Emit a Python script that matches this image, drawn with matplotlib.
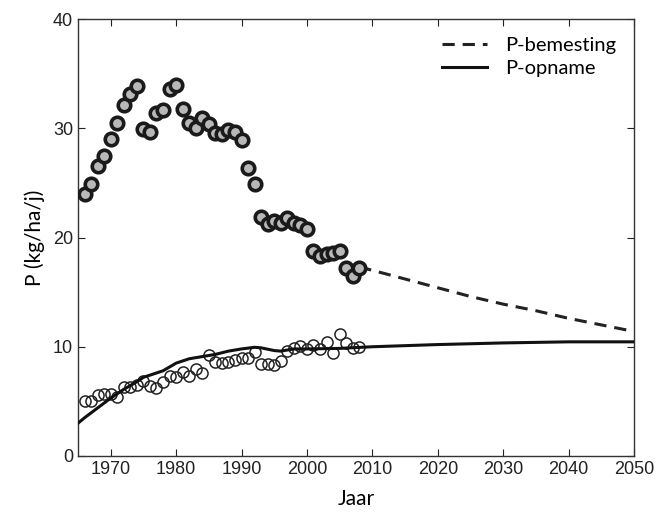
import numpy as np
import matplotlib.pyplot as plt

# Measured P fertilisation (kg/ha/yr)
years_obs = np.arange(1966, 2009)
p_fert = [24.0, 24.9, 26.5, 27.5, 29.0, 30.5, 32.1, 33.1, 33.9, 29.9,
          29.7, 31.4, 31.7, 33.6, 34.0, 31.8, 30.5, 30.0, 30.9, 30.4,
          29.6, 29.5, 29.8, 29.7, 28.9, 26.4, 24.9, 21.9, 21.2, 21.5,
          21.3, 21.8, 21.3, 21.1, 20.8, 18.8, 18.3, 18.5, 18.6, 18.8,
          17.2, 16.5, 17.2]

# Measured P uptake (kg/ha/yr)
p_uptake = [5.0, 5.0, 5.6, 5.7, 5.7, 5.4, 6.3, 6.3, 6.5, 6.9,
            6.4, 6.2, 6.8, 7.3, 7.2, 7.7, 7.3, 8.0, 7.6, 9.2,
            8.6, 8.5, 8.6, 8.8, 9.0, 9.0, 9.5, 8.4, 8.4, 8.3,
            8.7, 9.6, 9.9, 10.1, 9.8, 10.2, 9.8, 10.4, 9.4, 11.2,
            10.3, 9.9, 10.0]

# Projected fertilisation (dashed)
years_proj = [2008, 2010, 2015, 2020, 2025, 2030, 2035, 2040, 2045, 2050]
fert_proj = [17.3, 17.0, 16.2, 15.4, 14.6, 13.9, 13.3, 12.6, 12.0, 11.4]

# Modelled uptake (solid)
years_model = [1965, 1966, 1968, 1970, 1972, 1974, 1975, 1977, 1978, 1980,
               1982, 1984, 1986, 1988, 1990, 1992, 1993, 1995, 1996, 1998,
               2000, 2005, 2010, 2020, 2030, 2040, 2050]
uptake_model = [3.0, 3.5, 4.4, 5.3, 6.1, 6.8, 7.2, 7.6, 7.8, 8.5,
                8.9, 9.1, 9.3, 9.6, 9.8, 9.95, 9.9, 9.65, 9.6, 9.8,
                9.8, 9.85, 10.0, 10.2, 10.35, 10.45, 10.45]

label_font = ['Lato', 'DejaVu Sans']
tick_font = ['Liberation Sans Narrow', 'Liberation Sans', 'DejaVu Sans']

fig = plt.figure(figsize=(6.6, 5.19), dpi=100)
ax = fig.add_axes([78 / 660, 1 - 456 / 519, (634 - 78) / 660, (456 - 19) / 519])

# open circles first so the model line runs over them
ax.plot(years_obs, p_uptake, linestyle='none', marker='o', markersize=8,
        markerfacecolor='none', markeredgecolor='#222222', markeredgewidth=1.1,
        zorder=2)
ax.plot(years_proj, fert_proj, color='#222222', linestyle=(0, (4, 2.6)),
        linewidth=2.2, label='P-bemesting', zorder=3)
ax.plot(years_model, uptake_model, color='#111111', linewidth=2.2,
        label='P-opname', zorder=3)
ax.plot(years_obs, p_fert, linestyle='none', marker='o', markersize=9,
        markerfacecolor='#b8b8b8', markeredgecolor='#1a1a1a', markeredgewidth=2.6,
        zorder=4)

ax.set_xlim(1965, 2050)
ax.set_ylim(0, 40)
ax.set_xticks(range(1970, 2051, 10))
ax.set_yticks(range(0, 41, 10))
ax.tick_params(direction='in', top=True, right=True, length=5, width=0.8,
               labelsize=13, colors='#222222')
for lab in ax.get_xticklabels() + ax.get_yticklabels():
    lab.set_family(tick_font)
for side in ax.spines.values():
    side.set_color('#333333')
    side.set_linewidth(1.0)

ax.set_xlabel('Jaar', fontsize=15, family=label_font, labelpad=8)
ax.set_ylabel('P (kg/ha/j)', fontsize=15, family=label_font, labelpad=6)

leg = ax.legend(loc='upper right', frameon=False, handlelength=2.2,
                prop={'family': label_font, 'size': 14.5},
                borderaxespad=0.5, handletextpad=0.9, labelspacing=0.3)

fig.savefig('out.png', dpi=100)
